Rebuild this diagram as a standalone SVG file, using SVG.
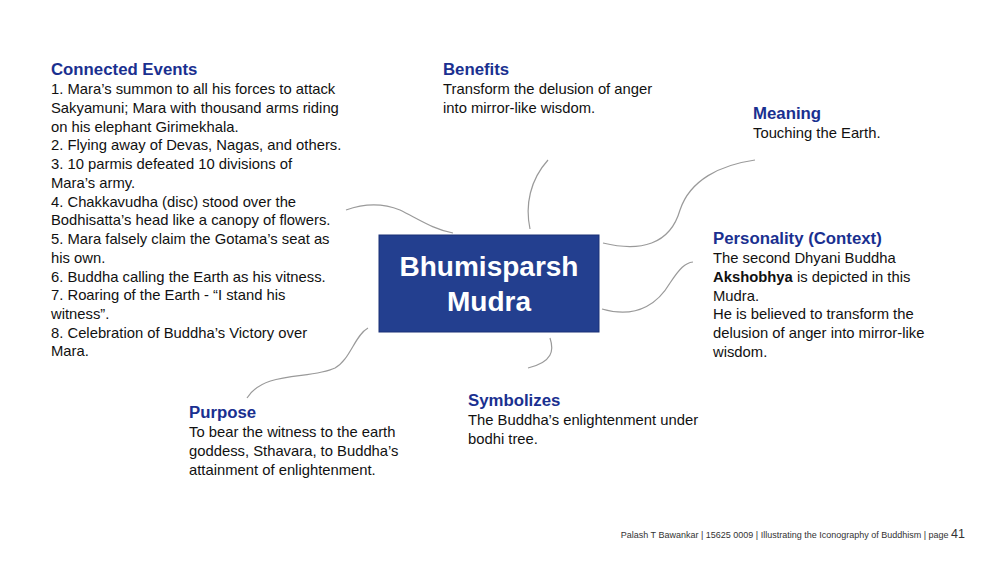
<svg xmlns="http://www.w3.org/2000/svg" width="1000" height="562" viewBox="0 0 1000 562">
<style>
.h{font-family:"Liberation Sans",Arial,sans-serif;font-weight:bold;font-size:16.8px;fill:#1a3090}
.t{font-family:"Liberation Sans",Arial,sans-serif;font-size:14.8px;fill:#111}
.b{font-weight:bold}
.c{fill:none;stroke:#9a9a9a;stroke-width:1.2}
.ct{font-family:"Liberation Sans",Arial,sans-serif;font-weight:bold;font-size:28px;fill:#fff;text-anchor:middle}
.f{font-family:"Liberation Sans",Arial,sans-serif;font-size:9px;fill:#333}
</style>
<rect width="1000" height="562" fill="#fff"/>
<g id="connectors">
<path class="c" d="M346,210 C360,205 380,202 400,210 C420,220 435,230 453,233"/>
<path class="c" d="M548,160 C530,180 525,205 530,229"/>
<path class="c" d="M603,243 C640,252 670,245 680,210 C690,180 720,165 755,160"/>
<path class="c" d="M602,309 C640,320 660,300 670,283 C680,268 685,263 693,262"/>
<path class="c" d="M550,338 C554,350 553,362 528,368"/>
<path class="c" d="M368,328 C355,335 350,360 335,368 C310,380 265,370 247,398"/>
</g>
<g id="center">
<rect x="379" y="235" width="220" height="97" fill="#233f8f" stroke="#1a3177" stroke-width="1"/>
<text class="ct" x="489" y="276">Bhumisparsh</text>
<text class="ct" x="489" y="311">Mudra</text>
</g>
<g id="connected-events">
<text class="h" x="51" y="75">Connected Events</text>
<text class="t" x="51" y="94">1. Mara’s summon to all his forces to attack</text>
<text class="t" x="51" y="113">Sakyamuni; Mara with thousand arms riding</text>
<text class="t" x="51" y="131.5">on his elephant Girimekhala.</text>
<text class="t" x="51" y="150">2. Flying away of Devas, Nagas, and others.</text>
<text class="t" x="51" y="169">3. 10 parmis defeated 10 divisions of</text>
<text class="t" x="51" y="188">Mara’s army.</text>
<text class="t" x="51" y="206.5">4. Chakkavudha (disc) stood over the</text>
<text class="t" x="51" y="225">Bodhisatta’s head like a canopy of flowers.</text>
<text class="t" x="51" y="244">5. Mara falsely claim the Gotama’s seat as</text>
<text class="t" x="51" y="263">his own.</text>
<text class="t" x="51" y="281.5">6. Buddha calling the Earth as his vitness.</text>
<text class="t" x="51" y="300">7. Roaring of the Earth - “I stand his</text>
<text class="t" x="51" y="319">witness”.</text>
<text class="t" x="51" y="337.5">8. Celebration of Buddha’s Victory over</text>
<text class="t" x="51" y="356">Mara.</text>
</g>
<g id="benefits">
<text class="h" x="443" y="75">Benefits</text>
<text class="t" x="443" y="94">Transform the delusion of anger</text>
<text class="t" x="443" y="113">into mirror-like wisdom.</text>
</g>
<g id="meaning">
<text class="h" x="753" y="119">Meaning</text>
<text class="t" x="753" y="138">Touching the Earth.</text>
</g>
<g id="personality">
<text class="h" x="713" y="244">Personality (Context)</text>
<text class="t" x="713" y="263">The second Dhyani Buddha</text>
<text class="t" x="713" y="282"><tspan class="b">Akshobhya</tspan> is depicted in this</text>
<text class="t" x="713" y="300.5">Mudra.</text>
<text class="t" x="713" y="319">He is believed to transform the</text>
<text class="t" x="713" y="338">delusion of anger into mirror-like</text>
<text class="t" x="713" y="357">wisdom.</text>
</g>
<g id="symbolizes">
<text class="h" x="468" y="406">Symbolizes</text>
<text class="t" x="468" y="425">The Buddha’s enlightenment under</text>
<text class="t" x="468" y="444">bodhi tree.</text>
</g>
<g id="purpose">
<text class="h" x="189" y="418">Purpose</text>
<text class="t" x="189" y="437">To bear the witness to the earth</text>
<text class="t" x="189" y="456">goddess, Sthavara, to Buddha’s</text>
<text class="t" x="189" y="475">attainment of enlightenment.</text>
</g>
<g id="footer">
<text class="f" x="965" y="538" text-anchor="end">Palash T Bawankar  |  15625 0009  |  Illustrating the Iconography of Buddhism  |  page <tspan font-size="12.5">41</tspan></text>
</g>
</svg>
